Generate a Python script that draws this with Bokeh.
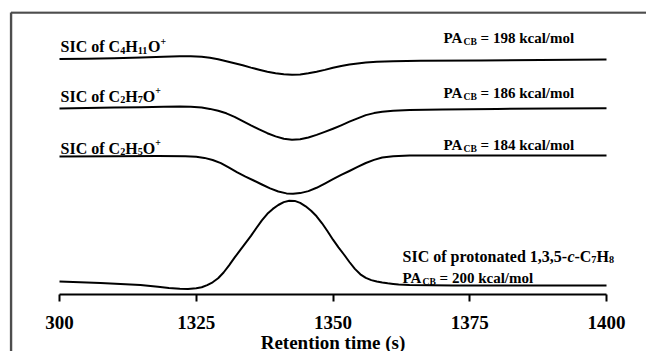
from bokeh.plotting import figure
from bokeh.models import Range1d, LinearAxis, FixedTicker, ColumnDataSource
from bokeh.core.properties import value
from bokeh.embed import file_html
from bokeh.resources import INLINE

# ---------------- data (retention time in s, relative signal in a.u.) ----------------
t_c4h11o = [1300, 1305, 1310, 1315, 1319, 1322, 1324, 1326, 1327.5, 1329, 1330.5, 1332,
            1333.5, 1335, 1336.5, 1338, 1339.5, 1341, 1342.5, 1344, 1345.5, 1347, 1348.5,
            1350, 1351.5, 1353, 1354.5, 1356, 1358, 1361, 1366, 1377, 1388, 1400]
s_c4h11o = [0, 0.3, 0.8, 1.6, 2.3, 2.7, 2.8, 2.3, 1.3, -0.3, -2.2, -4.3,
            -6.3, -8.6, -10.7, -12.7, -14.2, -15.3, -15.8, -15.4, -14.3, -12.8, -10.9,
            -8.8, -7.0, -5.6, -4.5, -3.5, -2.8, -2.2, -1.8, -1.5, -1.0, -0.5]

t_c2h7o = [1300, 1305, 1310, 1315, 1319, 1322, 1324, 1326, 1327.5, 1329, 1330.5, 1332,
           1333.5, 1335, 1336.5, 1338, 1339.5, 1341, 1342.5, 1344, 1345.5, 1347, 1348.5,
           1350, 1351.5, 1353, 1354.5, 1356, 1357.5, 1359, 1361, 1364, 1370, 1380, 1390, 1400]
s_c2h7o = [0, 0.4, 0.9, 1.3, 1.8, 2.0, 1.7, 0.9, -0.4, -2.3, -4.8, -8.3,
           -12.6, -16.9, -20.9, -24.7, -27.9, -30.3, -31.3, -30.8, -29.0, -26.4, -23.4,
           -20.2, -16.8, -13.2, -9.8, -6.6, -4.6, -3.3, -2.3, -1.6, -1.0, -0.4, 0, 0.2]

t_c2h5o = [1300, 1310, 1318, 1323, 1325, 1326.5, 1328, 1329.5, 1331, 1332.5, 1334, 1335.5,
           1337, 1338.5, 1340, 1341.5, 1342.7, 1344, 1345.5, 1347, 1348.5, 1350, 1351.5,
           1353, 1354.5, 1356, 1357.5, 1359, 1361, 1364, 1370, 1385, 1400]
s_c2h5o = [0, 0.2, 0.4, 0.3, -0.2, -1.4, -3.5, -6.6, -11.2, -15.9, -20.1, -24.0,
           -28.0, -31.9, -35.0, -36.9, -37.3, -36.6, -34.6, -31.3, -27.1, -22.7, -18.4,
           -14.5, -10.4, -6.5, -3.4, -1.0, 0.3, 1.0, 1.1, 1.0, 1.0]

t_c7h9 = [1300, 1307.5, 1314.8, 1318, 1320, 1322, 1323.5, 1325, 1326, 1327, 1328, 1329,
          1330, 1331, 1332, 1333, 1334, 1335, 1336, 1337, 1338, 1339, 1340, 1341, 1342,
          1343, 1344, 1345, 1346, 1347, 1348, 1349, 1350, 1351, 1352, 1353, 1354, 1355,
          1356, 1357, 1358, 1359, 1360, 1361, 1362, 1364, 1368, 1372, 1384, 1400]
s_c7h9 = [0, -1.5, -3.5, -5.3, -6.5, -7.3, -7.4, -6.8, -5.8, -3.6, -0.8, 3.2,
          9.0, 16.2, 23.8, 31.2, 38.3, 45.6, 53.5, 61.2, 67.7, 72.6, 76.5, 79.4, 80.8,
          80.6, 78.6, 75.2, 70.8, 65.2, 58.2, 50.2, 41.8, 34.2, 27.0, 19.5, 12.6, 7.2,
          3.6, 1.4, 0.0, -1.0, -1.8, -2.4, -2.9, -3.5, -3.8, -4.0, -4.0, -4.0]

ticks = [1300, 1325, 1350, 1375, 1400]
tick_labels = ["300", "1325", "1350", "1375", "1400"]
x_title = "Retention time (s)"

# ---------------- layout constants ----------------
W, H = 646, 351
LEFT, TOP = 9, 11
PX_PER_S = 5.47
X0 = 1300 - (59 - LEFT) / PX_PER_S
X1 = X0 + (W - LEFT) / PX_PER_S
YSPAN = H - TOP  # 1 unit = 1 px


def ydat(canvas_y):
    return H - canvas_y


offsets = {"c4": ydat(58.5), "c2h7": ydat(108), "c2h5": ydat(156), "c7": ydat(281)}
FONT = "Liberation Serif"

p = figure(width=W, height=H, x_range=Range1d(X0, X1), y_range=Range1d(0, YSPAN),
           x_axis_type=None, y_axis_type=None, title=None,
           min_border_left=LEFT, min_border_top=TOP, min_border_right=0, min_border_bottom=0,
           output_backend="svg", toolbar_location=None)
p.outline_line_color = None
p.background_fill_color = "white"
p.border_fill_color = "white"

for t, s, key in [(t_c4h11o, s_c4h11o, "c4"), (t_c2h7o, s_c2h7o, "c2h7"),
                  (t_c2h5o, s_c2h5o, "c2h5"), (t_c7h9, s_c7h9, "c7")]:
    p.line(t, [si + offsets[key] for si in s], line_color="black", line_width=2,
           line_join="round")

axis = LinearAxis(fixed_location=ydat(294), bounds=(1300, 1400),
                  ticker=FixedTicker(ticks=ticks),
                  major_label_overrides={tk: lb for tk, lb in zip(ticks, tick_labels)},
                  axis_label=x_title)
axis.axis_line_width = 2
axis.axis_line_color = "black"
axis.major_tick_line_width = 2
axis.major_tick_out = 7
axis.major_tick_in = 0
axis.minor_tick_out = 0
axis.minor_tick_in = 0
axis.major_label_text_font = FONT
axis.major_label_text_font_style = "bold"
axis.major_label_text_font_size = "19px"
axis.major_label_text_color = "black"
axis.major_label_standoff = 14
axis.axis_label_text_font = FONT
axis.axis_label_text_font_style = "bold"
axis.axis_label_text_font_size = "19px"
axis.axis_label_text_color = "black"
axis.axis_label_standoff = 0
p.add_layout(axis, "below")

# ---------------- rich labels (sub/superscripts) ----------------
ADV = {" ": 250, "S": 556, "I": 389, "C": 722, "o": 500, "f": 333, "H": 778, "O": 778, "+": 570,
       "P": 611, "A": 722, "B": 667, "=": 570, "k": 556, "c": 444, "a": 500, "l": 278, "/": 278,
       "m": 833, "p": 556, "r": 444, "t": 333, "n": 556, "e": 444, "d": 556, ",": 250, "-": 333}


def adv(txt, size):
    return sum(ADV.get(ch, 500) for ch in txt) * size / 1000.0


rows = dict(x=[], y=[], text=[], xo=[], yo=[], size=[], style=[])


def rich(tx, cy, segs, size):
    xo = 0.0
    for txt, role in segs:
        if role == "s":
            sz, yo = size * 0.64, size * 0.24
        elif role == "p":
            sz, yo = size * 0.62, -size * 0.34
        else:
            sz, yo = size, 0.0
        stripped = txt.lstrip(" ")
        xo += adv(txt[:len(txt) - len(stripped)], sz)
        rows["x"].append(tx)
        rows["y"].append(ydat(cy))
        rows["text"].append(stripped)
        rows["xo"].append(xo)
        rows["yo"].append(yo)
        rows["size"].append(f"{sz:.1f}px")
        rows["style"].append("bold italic" if role == "i" else "bold")
        xo += adv(stripped, sz)


T_LEFT = 1300.2
T_PA = 1300 + (443 - 59) / PX_PER_S
T_BR = 1300 + (402 - 59) / PX_PER_S

rich(T_LEFT, 46, [("SIC of C", "n"), ("4", "s"), ("H", "n"), ("11", "s"), ("O", "n"), ("+", "p")], 16)
rich(T_LEFT, 95.5, [("SIC of C", "n"), ("2", "s"), ("H", "n"), ("7", "s"), ("O", "n"), ("+", "p")], 16)
rich(T_LEFT, 147.5, [("SIC of C", "n"), ("2", "s"), ("H", "n"), ("5", "s"), ("O", "n"), ("+", "p")], 16)
rich(T_PA, 37, [("PA", "n"), ("CB", "s"), (" = 198 kcal/mol", "n")], 15)
rich(T_PA, 92.5, [("PA", "n"), ("CB", "s"), (" = 186 kcal/mol", "n")], 15)
rich(T_PA, 144.5, [("PA", "n"), ("CB", "s"), (" = 184 kcal/mol", "n")], 15)
rich(T_BR, 255.5, [("SIC of protonated 1,3,5-", "n"), ("c", "i"), ("-C", "n"), ("7", "s"),
                   ("H", "n"), ("8", "s")], 16)
rich(T_BR, 277, [("PA", "n"), ("CB", "s"), (" = 200 kcal/mol", "n")], 15)

src = ColumnDataSource(rows)
p.text(x="x", y="y", text="text", x_offset="xo", y_offset="yo", source=src,
       text_font=value(FONT), text_font_size="size", text_font_style="style",
       text_color="black", text_align="left", text_baseline="alphabetic")

# border of the (cropped) figure box: top and left edges, drawn last
bx = X0 + 1.5 / PX_PER_S
by = ydat(12)
p.line([bx, X1], [by, by], line_color="#4d4d4d", line_width=2.5)
p.line([bx, bx], [0, by], line_color="#4d4d4d", line_width=2.5)

open("out.html", "w").write(file_html(p, INLINE))
